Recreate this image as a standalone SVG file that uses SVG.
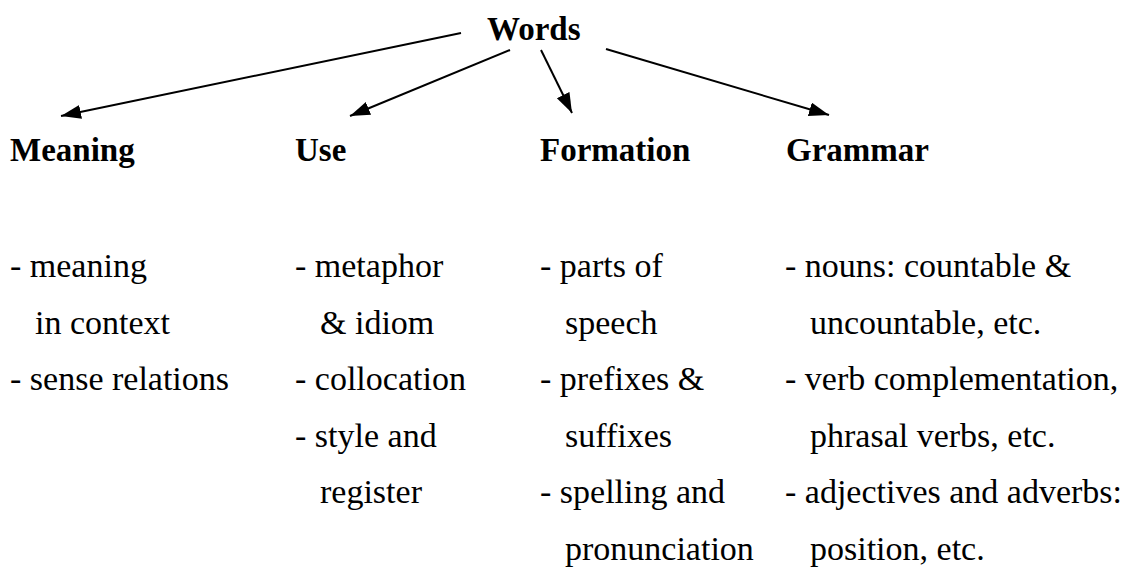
<svg xmlns="http://www.w3.org/2000/svg" width="1130" height="579" viewBox="0 0 1130 579">
  <style>
    .h { font-family: "Liberation Serif", "Times New Roman", serif; font-weight: bold; font-size: 33px; fill: #000; }
    .b { font-family: "Liberation Serif", "Times New Roman", serif; font-size: 34px; fill: #000; }
    .c { stroke: #000; stroke-width: 2; fill: none; marker-end: url(#ah); }
  </style>
  <defs>
    <marker id="ah" markerUnits="userSpaceOnUse" markerWidth="22" markerHeight="16" refX="20" refY="7" orient="auto">
      <path d="M0,0 L20,7 L0,14 z" fill="#000"/>
    </marker>
  </defs>
  <rect width="1130" height="579" fill="#fff"/>
  <g id="connectors">
    <line class="c" x1="461" y1="33" x2="61" y2="116"/>
    <line class="c" x1="510" y1="50" x2="350" y2="116"/>
    <line class="c" x1="541" y1="50" x2="572" y2="113"/>
    <line class="c" x1="606" y1="49" x2="829" y2="115"/>
  </g>
  <g id="words"><text class="h" x="487" y="40">Words</text></g>
  <g id="meaning">
    <text class="h" x="10" y="161">Meaning</text>
    <text class="b" x="10" y="277">- meaning</text>
    <text class="b" x="35" y="334">in context</text>
    <text class="b" x="10" y="390">- sense relations</text>
  </g>
  <g id="use">
    <text class="h" x="295" y="161">Use</text>
    <text class="b" x="295" y="277">- metaphor</text>
    <text class="b" x="320" y="334">&amp; idiom</text>
    <text class="b" x="295" y="390">- collocation</text>
    <text class="b" x="295" y="447">- style and</text>
    <text class="b" x="320" y="503">register</text>
  </g>
  <g id="formation">
    <text class="h" x="540" y="161">Formation</text>
    <text class="b" x="540" y="277">- parts of</text>
    <text class="b" x="565" y="334">speech</text>
    <text class="b" x="540" y="390">- prefixes &amp;</text>
    <text class="b" x="565" y="447">suffixes</text>
    <text class="b" x="540" y="503">- spelling and</text>
    <text class="b" x="565" y="560">pronunciation</text>
  </g>
  <g id="grammar">
    <text class="h" x="786" y="161">Grammar</text>
    <text class="b" x="785" y="277">- nouns: countable &amp;</text>
    <text class="b" x="810" y="334">uncountable, etc.</text>
    <text class="b" x="785" y="390">- verb complementation,</text>
    <text class="b" x="810" y="447">phrasal verbs, etc.</text>
    <text class="b" x="785" y="503">- adjectives and adverbs:</text>
    <text class="b" x="810" y="560">position, etc.</text>
  </g>
</svg>
